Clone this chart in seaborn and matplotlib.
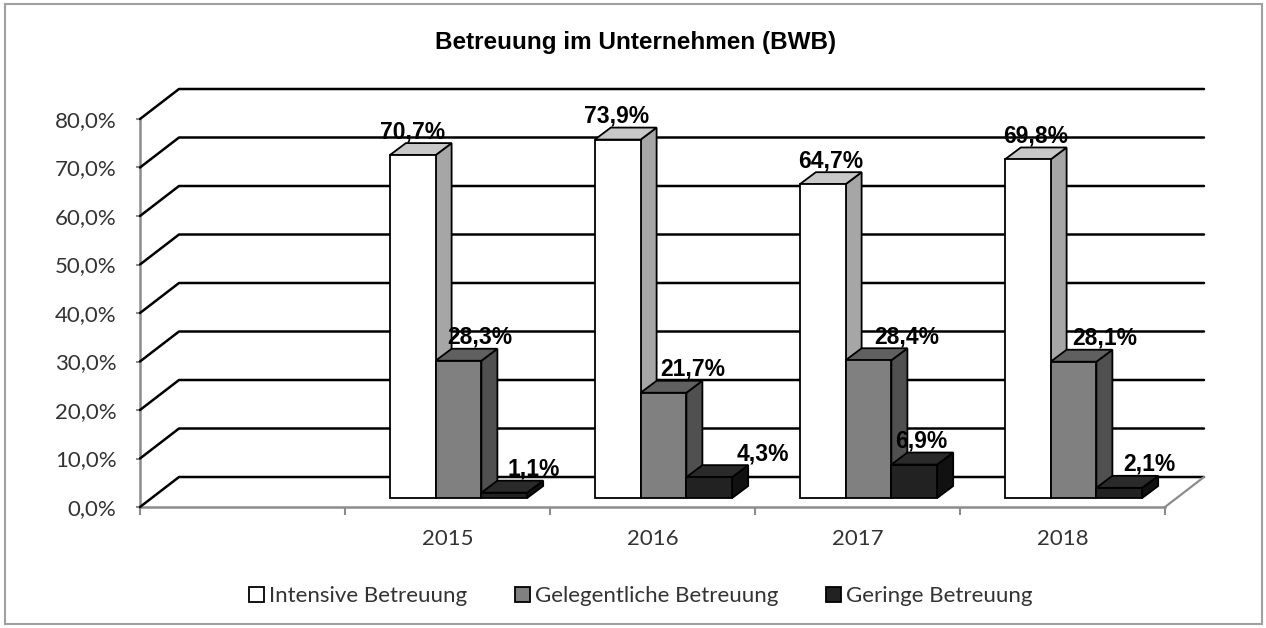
import numpy as np
import pandas as pd
import matplotlib
matplotlib.use("Agg")
import matplotlib.pyplot as plt
import seaborn as sns
from matplotlib.patches import Polygon, Patch, Rectangle
from matplotlib.lines import Line2D
from matplotlib.transforms import IdentityTransform, ScaledTranslation

# ---------------- data ----------------
categories = ["", "2015", "2016", "2017", "2018"]
years = ["2015", "2016", "2017", "2018"]
series = ["Intensive Betreuung", "Gelegentliche Betreuung", "Geringe Betreuung"]
intensive = [70.7, 73.9, 64.7, 69.8]
gelegentlich = [28.3, 21.7, 28.4, 28.1]
gering = [1.1, 4.3, 6.9, 2.1]
y_ticks = [0, 10, 20, 30, 40, 50, 60, 70, 80]
y_tick_labels = ["0,0%", "10,0%", "20,0%", "30,0%", "40,0%", "50,0%", "60,0%", "70,0%", "80,0%"]
title = "Betreuung im Unternehmen (BWB)"

# label x shifts (pixels) per series, style only
label_shift = [[0, -1, 8, 8], [21, 29, 38, 31], [29, 54, 7, 30]]

df = pd.DataFrame({
    "Jahr": years * 3,
    "Art": [s for s in series for _ in years],
    "Wert": intensive + gelegentlich + gering,
})

# ---------------- style ----------------
sns.set_theme(style="white")
plt.rcParams["font.family"] = ["Lato", "DejaVu Sans"]

front_colors = ["#ffffff", "#808080", "#222222"]
top_colors = ["#c8c8c8", "#606060", "#2a2a2a"]
side_colors = ["#a6a6a6", "#505050", "#111111"]
axis_gray = "#8c8c8c"

W, H = 1266, 628
fig = plt.figure(figsize=(W / 100, H / 100), dpi=100)
ax = fig.add_axes([140 / W, 1 - 507 / H, 1025 / W, 388 / H])

sns.barplot(data=df, x="Jahr", y="Wert", hue="Art", order=categories,
            hue_order=series, palette=front_colors, width=0.67, gap=0,
            saturation=1, edgecolor="black", linewidth=1.3, errorbar=None,
            legend=False, ax=ax, zorder=3)

ax.set_xlim(-0.5, 4.5)
ax.set_ylim(0, 80)

# 3D geometry in pixels
OX, OY = 11, 9          # bars sit slightly behind the front plane
DX, DY = 16, 12         # bar depth
WX, WY = 39, 30         # wall depth

shift = ScaledTranslation(OX / 100, OY / 100, fig.dpi_scale_trans)

# back wall grid lines
for v in y_ticks:
    p0 = ax.transData.transform((-0.5, v))
    p2 = ax.transData.transform((4.5, v))
    xs = [p0[0], p0[0] + WX, p2[0] + WX]
    ys = [p0[1], p0[1] + WY, p2[1] + WY]
    ln = Line2D(xs, ys, transform=IdentityTransform(), color="black", lw=1.8, zorder=1)
    ax.add_line(ln)
    ln.set_clip_on(False)

# floor right edge
pf = ax.transData.transform((4.5, 0))
ln = Line2D([pf[0], pf[0] + WX], [pf[1], pf[1] + WY], transform=IdentityTransform(),
            color=axis_gray, lw=1.6, zorder=1)
ax.add_line(ln)
ln.set_clip_on(False)

# 3D faces and labels
for i, cont in enumerate(ax.containers):
    for j, bar in enumerate(cont):
        x0, w, h = bar.get_x(), bar.get_width(), bar.get_height()
        if not np.isfinite(h):
            continue
        bar.set_transform(ax.transData + shift)
        bar.set_clip_on(False)
        p = ax.transData.transform([(x0, 0), (x0 + w, 0), (x0 + w, h), (x0, h)]) + np.array([OX, OY])
        d = np.array([DX, DY])
        top = [p[3], p[2], p[2] + d, p[3] + d]
        side = [p[1], p[2], p[2] + d, p[1] + d]
        for verts, fc in ((side, side_colors[i]), (top, top_colors[i])):
            poly = Polygon(verts, closed=True, transform=IdentityTransform(),
                           facecolor=fc, edgecolor="black", lw=1.3, zorder=2)
            ax.add_patch(poly)
            poly.set_clip_on(False)
        txt = f"{h:.1f}".replace(".", ",") + "%"
        ax.annotate(txt, xy=(x0 + w / 2, h), xycoords="data",
                    xytext=(OX + label_shift[i][j], OY + DY + 5), textcoords="offset pixels",
                    ha="center", va="baseline", fontsize=16.5, fontweight="bold",
                    family=["Liberation Sans", "DejaVu Sans"], color="black",
                    annotation_clip=False, zorder=5)

ax.set_xlim(-0.5, 4.5)
ax.set_ylim(0, 80)

# axes styling
for s in ("top", "right"):
    ax.spines[s].set_visible(False)
for s in ("left", "bottom"):
    ax.spines[s].set_color(axis_gray)
    ax.spines[s].set_linewidth(1.8)
    ax.spines[s].set_zorder(0.5)

ax.set_yticks(y_ticks)
ax.set_yticklabels(y_tick_labels)
ax.tick_params(axis="y", which="major", direction="out", length=3, width=1.5,
               color=axis_gray, pad=14, labelsize=16, labelcolor="#333333", left=True)
ax.set_xticks(range(len(categories)))
ax.set_xticklabels(categories)
ax.set_xticks(np.arange(-0.5, 5, 1), minor=True)
ax.tick_params(axis="x", which="major", length=0, pad=16, labelsize=16, labelcolor="#333333")
ax.tick_params(axis="x", which="minor", direction="out", length=6, width=1.5,
               color=axis_gray, bottom=True)
ax.set_xlabel("")
ax.set_ylabel("")
ax.grid(False)

# title
fig.text(636 / W, 1 - 42 / H, title, ha="center", va="center", fontsize=17.5,
         fontweight="bold", family=["Liberation Sans", "DejaVu Sans"], color="black")

# legend
handles = [Patch(facecolor=c, edgecolor="black", lw=1.3) for c in front_colors]
fig.legend(handles, series, loc="center", bbox_to_anchor=(641 / W, 1 - 596 / H),
           ncol=3, frameon=False, fontsize=16, handlelength=0.68, handleheight=0.68,
           handletextpad=0.22, columnspacing=2.15, labelcolor="#333333")

# outer frame
fig.patches.append(Rectangle((5 / W, 4 / H), (1262 - 5) / W, (624 - 4) / H,
                             transform=fig.transFigure, fill=False,
                             edgecolor="#a0a0a0", lw=1.5))

fig.savefig("out.png", dpi=100)
